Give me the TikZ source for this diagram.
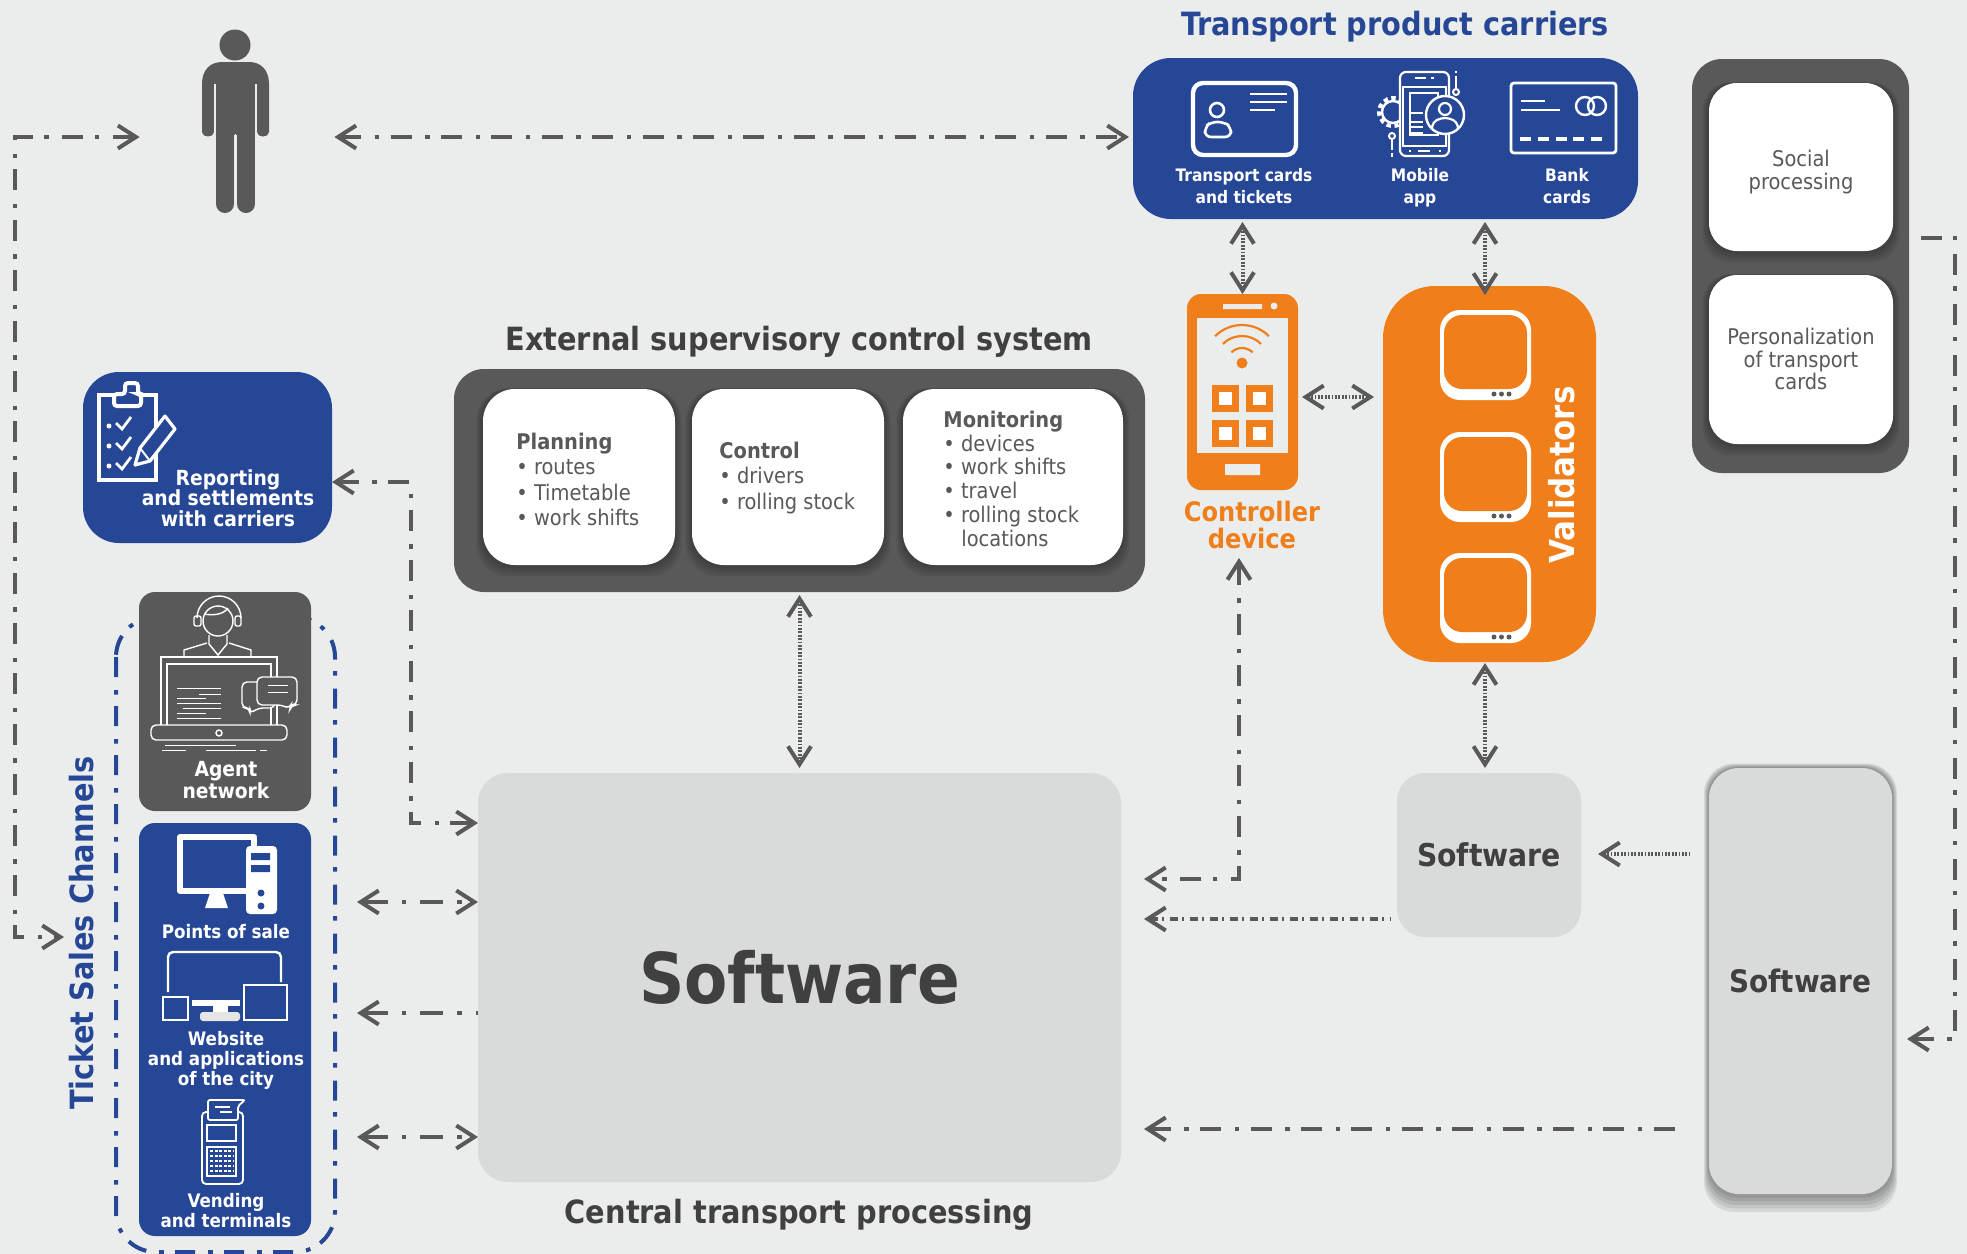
\documentclass[tikz,border=0pt]{standalone}
\usepackage{fontspec}
\setmainfont{DejaVu Sans Condensed}
\usetikzlibrary{arrows.meta}
\definecolor{bgc}{HTML}{EBEDEC}
\definecolor{bluec}{HTML}{264796}
\definecolor{greyc}{HTML}{595959}
\definecolor{orangec}{HTML}{F07F1B}
\definecolor{softc}{HTML}{D9DBDA}
\definecolor{darkt}{HTML}{404040}
\newcommand{\fs}[2]{\fontsize{#1pt}{#2pt}\selectfont}
% name, x1, y1, x2, y2, style, text
\newcommand{\bx}[7]{%
 \pgfmathsetmacro{\bw}{(#4-#2)*0.5}\pgfmathsetmacro{\bh}{(#5-#3)*0.5}%
 \node[inner sep=0pt,outer sep=0pt,minimum width=\bw pt,minimum height=\bh pt,#6] (#1) at ({(#2+#4)/2},{(#3+#5)/2}) {#7};}
% soft shadow under a white box: x1,y1,x2,y2,radius
\newcommand{\shad}[5]{%
 \foreach \e in {2,4,6,8} {\fill[black,opacity=.07,rounded corners=#5] (#1-\e*.8,#2-\e*.1) rectangle (#3+\e*.8,#4+\e*1.4);}}
\tikzset{
 x=0.5pt,y=-0.5pt,
 ahead/.tip={Straight Barb[length=9pt,width=11.5pt,line width=2pt]},
 conn/.style={draw=greyc,line width=2pt,dash pattern=on 10.5pt off 6.8pt on 2.2pt off 5.7pt,ahead-ahead},
 connl/.style={draw=greyc,line width=2pt,dash pattern=on 10.5pt off 6.8pt on 2.2pt off 5.7pt,ahead-},
 connw/.style={draw=greyc,line width=2pt,dash pattern=on 11.5pt off 7pt on 2.2pt off 7pt,dash phase=26.7pt},
 dense/.style={draw=greyc,line width=2pt,dash pattern=on .9pt off .8pt},
 densedd/.style={draw=greyc,line width=1.6pt,dash pattern=on 4pt off 2pt on 1pt off 3pt},
 bluep/.style={fill=bluec,rounded corners=#1},
 darkp/.style={fill=greyc,rounded corners=#1},
 whitep/.style={fill=white,rounded corners=#1},
 softp/.style={fill=softc,rounded corners=#1},
 orangep/.style={fill=orangec,rounded corners=#1},
 title/.style={font=\fs{16}{19}\bfseries},
 lbl/.style={text=white,align=center,font=\fs{8.6}{11}\bfseries},
 body/.style={text=greyc,align=left,inner sep=0pt},
 bodyc/.style={text=greyc,align=center,font=\fs{10.8}{11.3}},
 soft/.style={text=darkt,font=\fs{15.7}{20}\bfseries},
}
\begin{document}
\begin{tikzpicture}
\useasboundingbox (0,0) rectangle (1967,1254);
\fill[bgc] (0,0) rectangle (1967,1254);

% ---- person
\node[inner sep=0pt,minimum width=33.5pt,minimum height=87pt] (person) at (235.5,119) {};
\fill[greyc] (235,45) circle (15.5);
\fill[greyc] (202,84) .. controls (202,70) and (210,62) .. (222,62) -- (249,62) .. controls (261,62) and (269,70) .. (269,84) -- (269,132) .. controls (269,138) and (257,138) .. (257,132) -- (257,84) -- (255,84) -- (255,134) -- (214,134) -- (216,84) -- (214,84) -- (214,132) .. controls (214,138) and (202,138) .. (202,132) -- cycle;
\fill[greyc] (216,82) rectangle (255,135);
\draw[greyc,line width=9pt,line cap=round] (225,130) -- (225,204) (246,130) -- (246,204);
\draw[bgc,line width=.6pt] (235.5,134) -- (235.5,207);
\draw[bgc,line width=.6pt] (215,84) -- (215,134) (256,84) -- (256,134);

% ---- carriers
\bx{carriers}{1133}{58}{1638}{219}{bluep=19pt}{}
\node[title,text=bluec] (tcar) at (1395,27) {Transport product carriers};
% card
\draw[white,line width=2.2pt,rounded corners=5pt] (1193,83) rectangle (1296,155);
\draw[white,line width=1.4pt] (1250,94) -- (1287,94) (1250,102) -- (1287,102) (1250,110) -- (1275,110);
\draw[white,line width=1.3pt] (1217,110) circle (7);
\draw[white,line width=1.3pt,rounded corners=3pt] (1205,137) -- (1205,127) -- (1211,122) -- (1224,122) -- (1231,127) -- (1231,137) -- cycle;
\node[lbl] (ltc) at (1244,186) {Transport cards\\and tickets};
% mobile
\draw[white,line width=2pt,dash pattern=on 2.2pt off 1.8pt] (1393,112) circle (14);
\draw[white,line width=1.2pt] (1393,112) circle (11);
\draw[white,line width=1.1pt,fill=bluec,rounded corners=3pt] (1400,72) rectangle (1449,156);
\draw[white,line width=1pt] (1403,87) rectangle (1446,146);
\draw[white,line width=1pt] (1410,93) rectangle (1438,135);
\draw[white,line width=1pt] (1415,78) -- (1426,78) (1431,78) -- (1434,78) (1409,151) -- (1411,151) (1418,151) -- (1430,151) (1439,151) -- (1441,151);
\draw[white,line width=1.2pt] (1411,113) -- (1423,113) (1411,122) -- (1423,122) (1411,127) -- (1423,127) (1411,133) -- (1423,133);
\draw[white,line width=1.2pt,fill=bluec] (1445,115) circle (19);
\draw[white,line width=1.1pt] (1445,109) circle (6);
\draw[white,line width=1.1pt,rounded corners=2pt] (1432,128) -- (1433,122) -- (1441,118) -- (1449,118) -- (1457,122) -- (1458,128);
\draw[white,line width=1.2pt] (1456,71) -- (1456,73) (1456,76) -- (1456,88);
\draw[white,line width=1pt] (1456,92) circle (3);
\draw[white,line width=1pt] (1392,136) circle (3);
\draw[white,line width=1.2pt] (1392,140) -- (1392,150) (1392,153) -- (1392,157);
\node[lbl] (lma) at (1420,188) {Mobile\\app};
% bank
\draw[white,line width=1.4pt,rounded corners=1.5pt] (1511,83) rectangle (1616,153);
\draw[white,line width=1.3pt] (1521,101) -- (1545,101) (1521,110) -- (1560,110);
\draw[white,line width=1.2pt] (1585,106) circle (9) (1597,106) circle (9);
\draw[white,line width=1.6pt,dash pattern=on 5.5pt off 3.4pt] (1520,139) -- (1603,139);
\node[lbl] (lbc) at (1567,186) {Bank\\cards};

% ---- right dark panel
\bx{rpanel}{1692}{59}{1909}{473}{darkp=15pt}{}
\shad{1709}{83}{1893}{251}{14pt}
\shad{1709}{275}{1893}{444}{14pt}
\bx{social}{1709}{83}{1893}{251}{whitep=14pt}{}
\bx{persz}{1709}{275}{1893}{444}{whitep=14pt}{}
\node[bodyc] (tsoc) at (1801,172) {Social\\processing};
\node[bodyc] (tper) at (1801,359) {Personalization\\of transport\\cards};

% ---- external panel
\node[title,text=darkt] (text) at (799,341.5) {External supervisory control system};
\bx{ext}{454}{369}{1145}{592}{darkp=15pt}{}
\shad{483}{389}{675}{565}{16pt}
\shad{692}{389}{884}{565}{16pt}
\shad{903}{389}{1123}{565}{16pt}
\bx{plan}{483}{389}{675}{565}{whitep=16pt}{}
\bx{ctrl}{692}{389}{884}{565}{whitep=16pt}{}
\bx{moni}{903}{389}{1123}{565}{whitep=16pt}{}
\node[body,anchor=north west,font=\fs{10.8}{12.7}] (tplan) at (516,432.5) {\textbf{Planning}\\• routes\\• Timetable\\• work shifts};
\node[body,anchor=north west,font=\fs{10.8}{12.7}] (tctrl) at (719,441.5) {\textbf{Control}\\• drivers\\• rolling stock};
\node[body,anchor=north west,font=\fs{10.8}{11.9}] (tmoni) at (943,410.5) {\textbf{Monitoring}\\• devices\\• work shifts\\• travel\\• rolling stock\\\hspace*{9pt}locations};

% ---- reporting
\bx{report}{83}{372}{332}{543}{bluep=18pt}{}
\node[lbl,font=\fs{10.4}{10.3}\bfseries] (lrep) at (228,498) {Reporting\\and settlements\\with carriers};
\draw[white,line width=2pt,fill=bluec] (99,395) rectangle (156,480);
\draw[white,line width=2pt,fill=bluec,rounded corners=1.5pt] (114,406) -- (114,394) -- (125,394) -- (125,383) -- (138,383) -- (138,394) -- (141,394) -- (141,406) -- cycle;
\foreach \yy in {423,443,463} {
 \fill[white] (109,\yy+3) circle (2.5);
 \draw[white,line width=1.4pt] (116,\yy) -- (122,\yy+6) -- (131,\yy-6);
}
\draw[white,line width=1.6pt,fill=bluec,line join=round] (165,416) -- (175,429) -- (150,461) -- (135,465) -- (140,448) -- cycle;
\draw[white,line width=1pt] (140,448) -- (150,461);

% ---- ticket sales
\draw[bluec,line width=2pt,rounded corners=20pt,dash pattern=on 10pt off 6.5pt on 2.3pt off 5.7pt] (116,617) rectangle (335,1252);
\node[title,text=bluec,rotate=90] (tsc) at (82,933) {Ticket Sales Channels};
\bx{agent}{139}{592}{311}{811}{darkp=8pt}{}
\bx{pos}{139}{823}{311}{1236}{bluep=8pt}{}
% agent icon
\draw[white,line width=.7pt] (218,621) circle (15);
\draw[white,line width=.7pt] (197,618) arc[start angle=180,end angle=360,radius=22];
\draw[white,line width=.7pt,rounded corners=1pt] (194,616) rectangle (201,626) (235,616) rectangle (241,626);
\draw[white,line width=.7pt] (204,614) .. controls (214,616) and (224,614) .. (228,608);
\draw[white,line width=.7pt] (209,635) -- (209,644) -- (218,655) -- (227,644) -- (227,635);
\draw[white,line width=.7pt] (184,657) -- (184,650) -- (207,643) (229,643) -- (251,650) -- (251,657);
\draw[white,line width=.7pt] (161,726) -- (161,657) -- (277,657) -- (277,726);
\draw[white,line width=.7pt] (167,726) -- (167,664) -- (271,664) -- (271,726);
\draw[white,line width=.5pt] (177,688) -- (221,688) (199,694) -- (221,694) (177,698) -- (206,698) (177,703) -- (221,703) (183,708) -- (221,708) (177,713) -- (206,713) (177,718) -- (221,718);
\draw[white,line width=.7pt,fill=greyc,rounded corners=2.5pt] (151,725) rectangle (287,740);
\draw[white,line width=.7pt] (219,733) circle (3);
\draw[white,line width=.5pt] (165,745) -- (236,745) (162,750) -- (186,750) (206,750) -- (256,750) (260,750) -- (267,750);
\draw[white,line width=.7pt,fill=greyc,rounded corners=2.5pt] (242,682) -- (275,682) -- (275,708) -- (258,708) -- (250,714) -- (250,708) -- (242,708) -- cycle;
\draw[white,line width=.7pt,fill=greyc,rounded corners=2.5pt] (257,677) -- (297,677) -- (297,705) -- (291,705) -- (290,709) -- (282,705) -- (257,705) -- cycle;
\draw[white,line width=.5pt] (268,685) -- (288,685) (268,692) -- (288,692);
\node[lbl,font=\fs{10.4}{11}\bfseries] (lag) at (226,780) {Agent\\network};
% desktop
\draw[white,line width=3pt,line join=round] (180,837) rectangle (254,891);
\fill[white] (210,893) -- (223,893) -- (228,908) -- (205,908) -- cycle;
\fill[white,rounded corners=2pt] (246,846) rectangle (277,914);
\fill[bluec] (251,853) rectangle (270,860) (251,865) rectangle (270,872);
\fill[bluec] (261,893) circle (3.5) (261,906) circle (3.5);
\node[lbl,font=\fs{9.3}{10}\bfseries] (lps) at (226,932) {Points of sale};
% website
\draw[white,line width=1.2pt,rounded corners=2.5pt] (168,992) -- (168,952) -- (281,952) -- (281,982);
\draw[white,line width=1.1pt,fill=bluec] (163,997) rectangle (188,1020);
\fill[white] (192,1000) rectangle (240,1006);
\fill[white] (213,1006) rectangle (228,1012);
\fill[white!90!black,rounded corners=1.5pt] (200,1012) rectangle (240,1021);
\draw[white,line width=1.1pt,fill=bluec] (244,985) rectangle (287,1020);
\node[lbl,font=\fs{9.3}{9.85}\bfseries] (lweb) at (226,1060.5) {Website\\and applications\\of the city};
% terminal
\draw[white,line width=.9pt,rounded corners=2pt] (202,1112) rectangle (243,1184);
\draw[white,line width=.9pt,fill=bluec,rounded corners=1pt] (208,1120) -- (208,1100) -- (245,1100) -- (238,1106) -- (238,1120) -- cycle;
\draw[white,line width=.7pt] (215,1107) -- (230,1107) (220,1112) -- (232,1112);
\draw[white,line width=.8pt] (207,1125) rectangle (236,1141);
\draw[white,line width=.8pt] (207,1147) rectangle (236,1176);
\draw[white,line width=1.2pt,dash pattern=on 1.5pt off .8pt] (210,1151) -- (234,1151) (210,1156) -- (234,1156) (210,1161) -- (234,1161) (210,1166) -- (234,1166) (210,1171) -- (234,1171);
\node[lbl,font=\fs{9.3}{10}\bfseries] (lven) at (226,1211) {Vending\\and terminals};

% ---- central software
\bx{central}{478}{773}{1121}{1182}{softp=15pt,text=darkt,font=\fs{35}{40}\bfseries}{Software}
\node[title,text=darkt] (tcen) at (799,1215) {Central transport processing};

% ---- controller device
\bx{ctl}{1187}{294}{1298}{490}{orangep=7pt}{}
\fill[bgc] (1197,318) rectangle (1288,453);
\fill[bgc] (1223,304) rectangle (1262,309) (1225,464) rectangle (1260,475);
\fill[bgc] (1274,306) circle (3.5);
\fill[orangec] (1242,363) circle (5.5);
\foreach \rr in {15,27,38}
 \draw[orangec,line width=1.1pt] (1242,363) ++(-45:\rr) arc[start angle=-45,end angle=-135,radius=\rr];
\foreach \sx/\sy in {1212/385,1246/385,1212/420,1246/420} {
 \fill[orangec] (\sx,\sy) rectangle +(27,27);
 \fill[white] (\sx+7,\sy+7) rectangle +(13,13);
}
\node[text=orangec,align=center,font=\fs{13.4}{13.5}\bfseries] (lctl) at (1252,525) {Controller\\device};

% ---- validators
\bx{valid}{1383}{286}{1596}{662}{orangep=26pt}{}
\foreach \oo in {0,122,243} {
 \fill[white,rounded corners=10pt] (1440,310+\oo) rectangle (1531,400+\oo);
 \fill[orangec,rounded corners=9pt] (1444,315+\oo) rectangle (1527,389+\oo);
 \fill[greyc] (1494,394+\oo) circle (2.5) (1501.5,394+\oo) circle (2.5) (1509,394+\oo) circle (2.5);
}
\node[text=white,rotate=90,font=\fs{17.2}{18}\bfseries] (lval) at (1562,475) {Validators};

% ---- software mid / right
\bx{smid}{1397}{773}{1581}{937}{softp=14pt,soft}{Software}
\foreach \e in {1,2,3,4,5} {\fill[black,opacity=.085,rounded corners=15pt] (1709-\e,768-\e*.9) rectangle (1892+\e,1194+\e*3.6);}
\bx{sright}{1709}{768}{1892}{1194}{softp=15pt,soft,font=\fs{15.5}{20}\bfseries}{Software}

% ---- free ends of connectors
\coordinate (vtop) at (1485,286);
\coordinate (vbot) at (1485,663);
\coordinate (ctlup) at (1239,558);
\coordinate (elb) at (1239,879);
\coordinate (rep1) at (411,482);
\coordinate (rep2) at (411,823);
\coordinate (lft1) at (15,137);
\coordinate (lft2) at (15,937);
\coordinate (rgt1) at (1955,238);
\coordinate (rgt2) at (1955,1039);

% ---- connectors
\draw[conn] ([xshift=-31pt]person.west |- lft1) -- (lft1) -- (lft2) -- ([xshift=-37.5pt]pos.west |- lft2);
\draw[conn] ([xshift=32.5pt]person.east |- lft1) -- ([xshift=-2pt]carriers.west |- lft1);
\draw[conn] (report.east |- rep1) -- (rep1) -- (rep2) -- (central.west |- rep2);
\draw[dense,ahead-ahead] ([yshift=-1.5pt]ext.south) -- ([yshift=2.5pt]central.north);
\draw[dense,ahead-ahead] ([yshift=-1.5pt]carriers.south -| ctl.north) -- (ctl.north);
\draw[dense,ahead-ahead] ([yshift=-1.5pt]carriers.south -| vtop) -- ([yshift=-4.5pt]vtop);
\draw[dense,ahead-ahead] ([xshift=2pt]ctl.east |- 0,397) -- ([xshift=-4.5pt]valid.west |- 0,397);
\draw[dense,ahead-ahead] (vbot) -- ([yshift=2.5pt]smid.north -| vbot);
\draw[conn] (ctlup) -- (elb) -- ([xshift=11.5pt]central.east |- elb);
\draw[densedd,ahead-] ([xshift=11.5pt]central.east |- 0,919) -- ([xshift=-3.5pt]smid.west |- 0,919);
\draw[connl] ([xshift=11.5pt]central.east |- 0,1129) -- ([xshift=-13.5pt]sright.west |- 0,1129);
\draw[dense,ahead-] ([xshift=8.5pt]smid.east |- 0,854) -- ([xshift=-9.5pt]sright.west |- 0,854);
\draw[connl] ([xshift=7.5pt]sright.east |- rgt2) -- (rgt2) -- (rgt1) -- ([xshift=4pt]rpanel.east |- rgt1);
\draw[connw,ahead-ahead] ([xshift=23pt]pos.east |- 0,902) -- (central.west |- 0,902);
\draw[connw,ahead-] ([xshift=23pt]pos.east |- 0,1013) -- (central.west |- 0,1013);
\draw[connw,ahead-ahead] ([xshift=23pt]pos.east |- 0,1137) -- (central.west |- 0,1137);
\end{tikzpicture}
\end{document}
